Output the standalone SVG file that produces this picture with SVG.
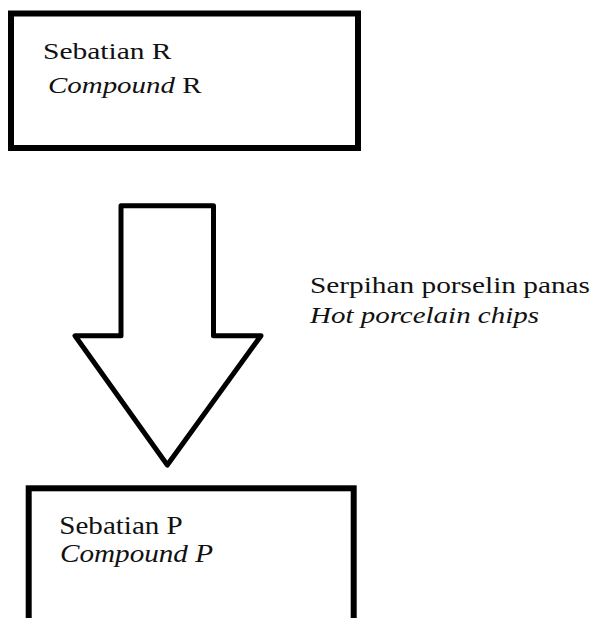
<svg xmlns="http://www.w3.org/2000/svg" width="593" height="618" viewBox="0 0 593 618">
<style>
.box{fill:#fff;stroke:#000;stroke-width:6}
.arrow{fill:#fff;stroke:#000;stroke-width:5;stroke-linejoin:round}
.t{fill:#111}
.it{font-style:italic}
</style>
<rect width="593" height="618" fill="#fff"/>
<g id="nodeR" font-family="'Liberation Serif', 'Times New Roman', serif">
<rect class="box" x="11" y="13.5" width="347" height="134.5"/>
<text class="t" x="43" y="59.3" font-size="24" textLength="128.5" lengthAdjust="spacingAndGlyphs">Sebatian R</text>
<text class="t" x="48" y="93.3" font-size="24" textLength="153.5" lengthAdjust="spacingAndGlyphs"><tspan class="it">Compound</tspan> R</text>
</g>
<g id="connectors" font-family="'Liberation Serif', 'Times New Roman', serif">
<path class="arrow" d="M121,205.7 L213.5,205.7 L213.5,335.7 L261,335.7 L167.3,465 L75,335.7 L121,335.7 Z"/>
<text class="t" x="310" y="293" font-size="23" textLength="280" lengthAdjust="spacingAndGlyphs">Serpihan porselin panas</text>
<text class="t it" x="310" y="323" font-size="23" textLength="229" lengthAdjust="spacingAndGlyphs">Hot porcelain chips</text>
</g>
<g id="nodeP" font-family="'Liberation Serif', 'Times New Roman', serif">
<rect class="box" x="28.7" y="488.3" width="325" height="160"/>
<text class="t" x="59.3" y="534" font-size="26" textLength="123.5" lengthAdjust="spacingAndGlyphs">Sebatian P</text>
<text class="t it" x="60" y="561.7" font-size="26" textLength="153" lengthAdjust="spacingAndGlyphs">Compound P</text>
</g>
</svg>
